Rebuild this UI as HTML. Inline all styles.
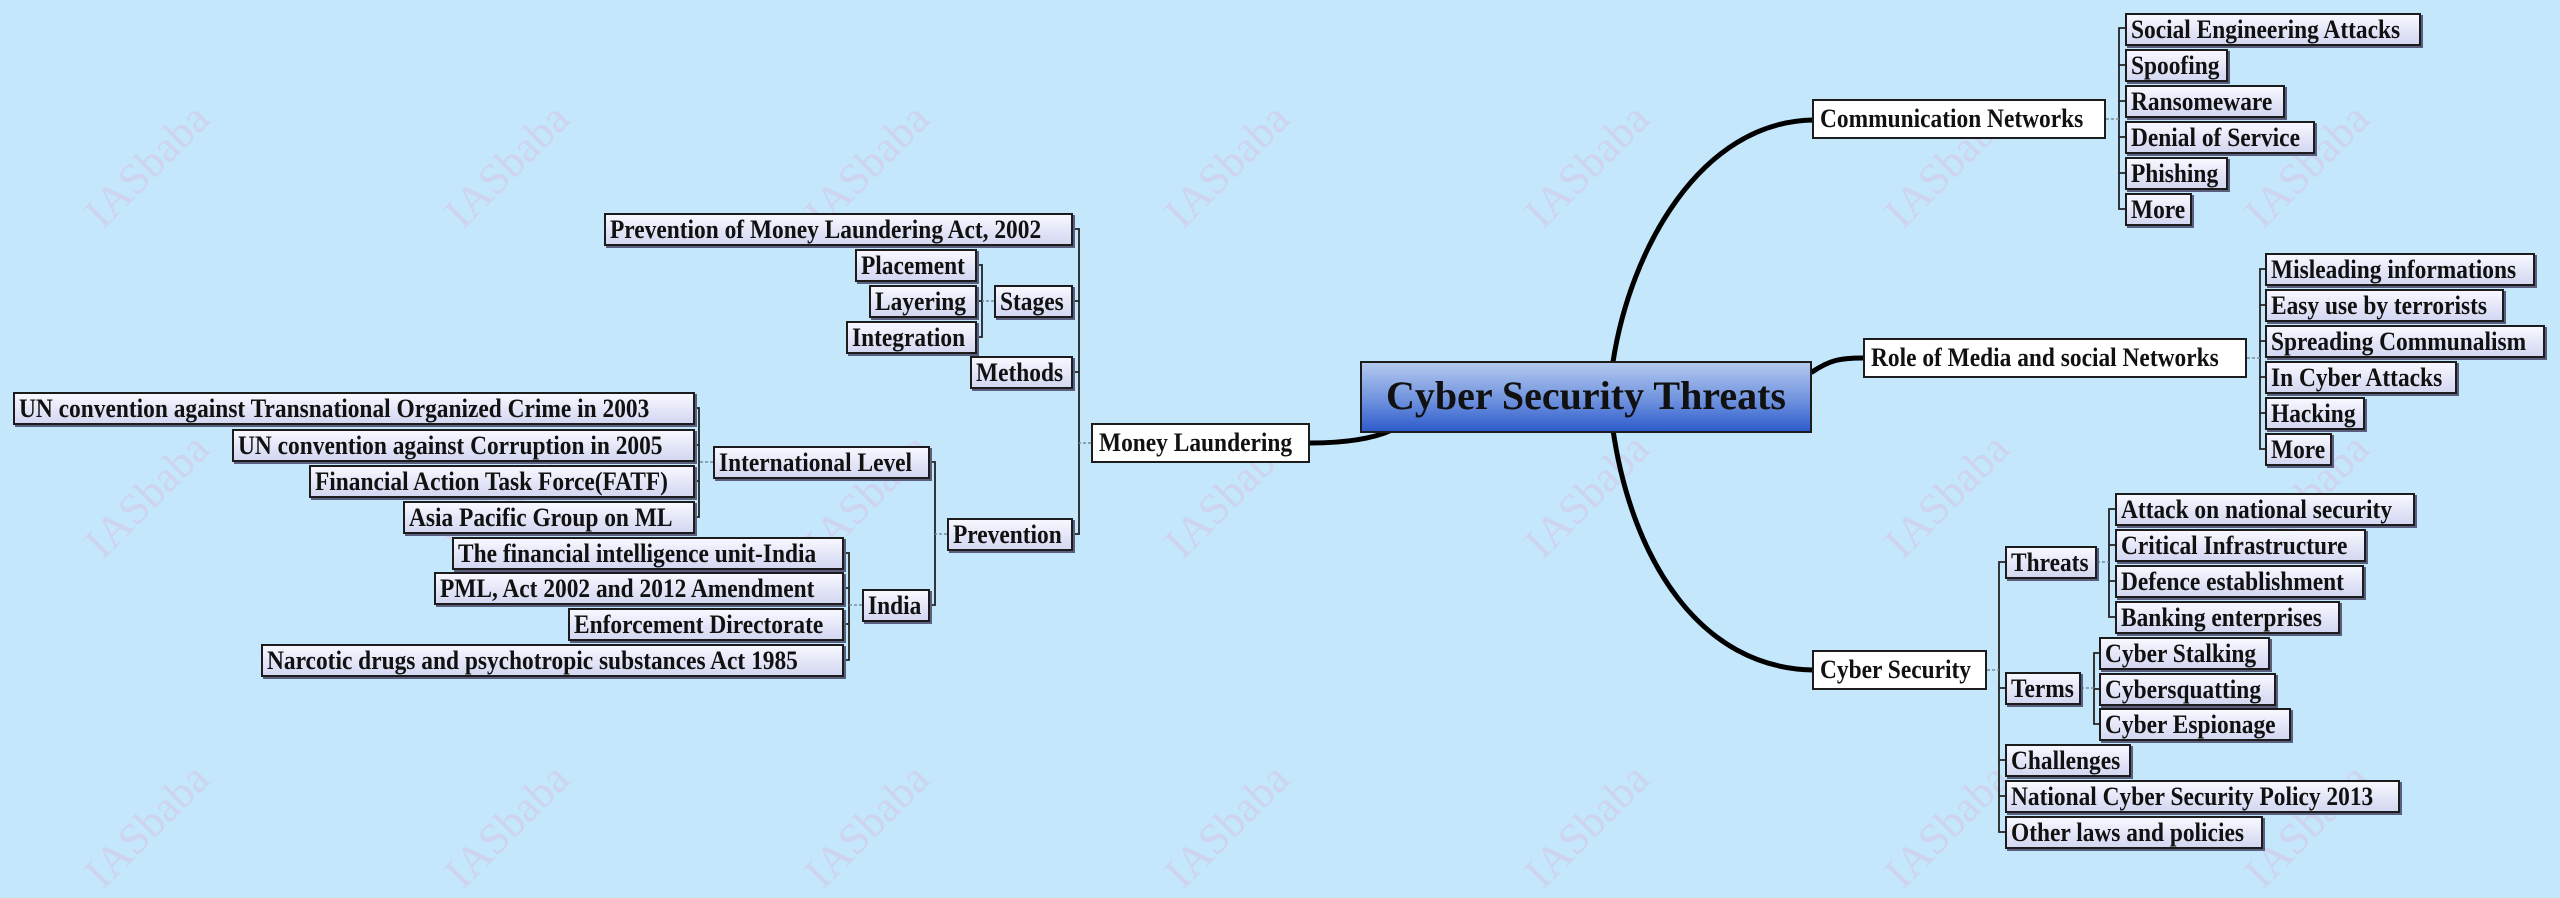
<!DOCTYPE html>
<html><head><meta charset="utf-8"><style>
body{margin:0;width:2560px;height:863px;background:#c4e7fb;position:relative;overflow:hidden;font-family:"Liberation Serif",serif;}
.b{position:absolute;box-sizing:border-box;border:2px solid #1c1c1c;background:linear-gradient(#f7f8ff,#d3d7f1);box-shadow:2px 2px 0 #5a5f80;font-weight:bold;font-size:26px;line-height:29px;white-space:nowrap;text-align:left;padding-left:4px;color:#111;height:33px;overflow:visible;}
.b span{display:inline-block;transform:scaleX(0.9);transform-origin:left center;}
.w{background:#fff;box-shadow:none;height:40px;line-height:36px;padding-left:6px;}
.wm{position:absolute;font-size:44px;color:rgba(235,150,205,0.25);transform:rotate(-45deg);font-family:"Liberation Serif",serif;}
svg{position:absolute;left:0;top:0;}
</style></head><body>
<div class="wm" style="left:70px;top:140px">IASbaba</div>
<div class="wm" style="left:430px;top:140px">IASbaba</div>
<div class="wm" style="left:790px;top:140px">IASbaba</div>
<div class="wm" style="left:1150px;top:140px">IASbaba</div>
<div class="wm" style="left:1510px;top:140px">IASbaba</div>
<div class="wm" style="left:1870px;top:140px">IASbaba</div>
<div class="wm" style="left:2230px;top:140px">IASbaba</div>
<div class="wm" style="left:70px;top:470px">IASbaba</div>
<div class="wm" style="left:430px;top:470px">IASbaba</div>
<div class="wm" style="left:790px;top:470px">IASbaba</div>
<div class="wm" style="left:1150px;top:470px">IASbaba</div>
<div class="wm" style="left:1510px;top:470px">IASbaba</div>
<div class="wm" style="left:1870px;top:470px">IASbaba</div>
<div class="wm" style="left:2230px;top:470px">IASbaba</div>
<div class="wm" style="left:70px;top:800px">IASbaba</div>
<div class="wm" style="left:430px;top:800px">IASbaba</div>
<div class="wm" style="left:790px;top:800px">IASbaba</div>
<div class="wm" style="left:1150px;top:800px">IASbaba</div>
<div class="wm" style="left:1510px;top:800px">IASbaba</div>
<div class="wm" style="left:1870px;top:800px">IASbaba</div>
<div class="wm" style="left:2230px;top:800px">IASbaba</div>

<svg width="2560" height="863">
<g fill="none" stroke="#000" stroke-linecap="round">
<path d="M1613,362 C1630,250 1700,122 1813,120" stroke-width="5"/>
<path d="M1613,430 C1632,560 1700,668 1813,670" stroke-width="5"/>
<path d="M1812,372 C1830,360 1840,358 1863,358" stroke-width="5"/>
<path d="M1392,430 C1370,440 1340,443 1310,443" stroke-width="5"/>
</g>
<g fill="none" stroke="#222" stroke-width="1.8">
<path d="M2125,28 H2119 V209 H2125 M2119,65 H2125 M2119,101 H2125 M2119,137 H2125 M2119,173 H2125"/>
<path d="M2265,269 H2260 V449 H2265 M2260,305 H2265 M2260,341 H2265 M2260,377 H2265 M2260,413 H2265"/>
<path d="M2005,562 H1999 V832 H2005 M1999,688 H2005 M1999,760 H2005 M1999,796 H2005"/>
<path d="M2115,509 H2109 V617 H2115 M2109,545 H2115 M2109,581 H2115"/>
<path d="M2099,653 H2094 V724 H2099 M2094,689 H2099"/>
<path d="M1073,229 H1079 V534 H1073 M1079,301 H1073 M1079,372 H1073"/>
<path d="M977,265 H982 V337 H977 M982,301 H977"/>
<path d="M930,462 H935 V605 H930"/>
<path d="M695,408 H699 V517 H695 M699,445 H695 M699,481 H695"/>
<path d="M844,553 H849 V660 H844 M849,588 H844 M849,624 H844"/>
</g>
<g fill="none" stroke="#7a8a9a" stroke-width="1.5" stroke-dasharray="3,2">
<path d="M2106,119 H2119 M2247,358 H2260 M1987,670 H1999 M2097,562 H2109 M2081,688 H2094 M1091,443 H1079 M994,301 H982 M947,534 H935 M713,462 H699 M862,605 H849"/>
</g>
</svg>

<div class="b" style="left:1360px;top:361px;width:452px;height:72px;line-height:66px;font-size:40px;text-align:center;padding-left:0;background:linear-gradient(#b3c9ef,#6f92de 55%,#2d5bcc);box-shadow:none;">Cyber Security Threats</div>

<div class="b w" style="left:1812px;top:99px;width:294px"><span>Communication Networks</span></div>
<div class="b" style="left:2125px;top:13px;width:296px"><span>Social Engineering Attacks</span></div>
<div class="b" style="left:2125px;top:49px;width:103px"><span>Spoofing</span></div>
<div class="b" style="left:2125px;top:85px;width:160px"><span>Ransomeware</span></div>
<div class="b" style="left:2125px;top:121px;width:190px"><span>Denial of Service</span></div>
<div class="b" style="left:2125px;top:157px;width:103px"><span>Phishing</span></div>
<div class="b" style="left:2125px;top:193px;width:67px"><span>More</span></div>

<div class="b w" style="left:1863px;top:338px;width:384px"><span>Role of Media and social Networks</span></div>
<div class="b" style="left:2265px;top:253px;width:270px"><span>Misleading informations</span></div>
<div class="b" style="left:2265px;top:289px;width:239px"><span>Easy use by terrorists</span></div>
<div class="b" style="left:2265px;top:325px;width:280px"><span>Spreading Communalism</span></div>
<div class="b" style="left:2265px;top:361px;width:192px"><span>In Cyber Attacks</span></div>
<div class="b" style="left:2265px;top:397px;width:100px"><span>Hacking</span></div>
<div class="b" style="left:2265px;top:433px;width:67px"><span>More</span></div>

<div class="b w" style="left:1812px;top:650px;width:175px"><span>Cyber Security</span></div>
<div class="b" style="left:2005px;top:546px;width:92px"><span>Threats</span></div>
<div class="b" style="left:2005px;top:672px;width:76px"><span>Terms</span></div>
<div class="b" style="left:2005px;top:744px;width:126px"><span>Challenges</span></div>
<div class="b" style="left:2005px;top:780px;width:395px"><span>National Cyber Security Policy 2013</span></div>
<div class="b" style="left:2005px;top:816px;width:258px"><span>Other laws and policies</span></div>
<div class="b" style="left:2115px;top:493px;width:300px"><span>Attack on national security</span></div>
<div class="b" style="left:2115px;top:529px;width:251px"><span>Critical Infrastructure</span></div>
<div class="b" style="left:2115px;top:565px;width:249px"><span>Defence establishment</span></div>
<div class="b" style="left:2115px;top:601px;width:225px"><span>Banking enterprises</span></div>
<div class="b" style="left:2099px;top:637px;width:171px"><span>Cyber Stalking</span></div>
<div class="b" style="left:2099px;top:673px;width:177px"><span>Cybersquatting</span></div>
<div class="b" style="left:2099px;top:708px;width:192px"><span>Cyber Espionage</span></div>

<div class="b w" style="left:1091px;top:423px;width:219px"><span>Money Laundering</span></div>
<div class="b" style="left:604px;top:213px;width:469px"><span>Prevention of Money Laundering Act, 2002</span></div>
<div class="b" style="left:855px;top:249px;width:122px"><span>Placement</span></div>
<div class="b" style="left:869px;top:285px;width:108px"><span>Layering</span></div>
<div class="b" style="left:846px;top:321px;width:131px"><span>Integration</span></div>
<div class="b" style="left:994px;top:285px;width:79px"><span>Stages</span></div>
<div class="b" style="left:970px;top:356px;width:103px"><span>Methods</span></div>
<div class="b" style="left:947px;top:518px;width:126px"><span>Prevention</span></div>
<div class="b" style="left:713px;top:446px;width:217px"><span>International Level</span></div>
<div class="b" style="left:862px;top:589px;width:68px"><span>India</span></div>
<div class="b" style="left:13px;top:392px;width:682px"><span>UN convention against Transnational Organized Crime in 2003</span></div>
<div class="b" style="left:232px;top:429px;width:463px"><span>UN convention against Corruption in 2005</span></div>
<div class="b" style="left:309px;top:465px;width:386px"><span>Financial Action Task Force(FATF)</span></div>
<div class="b" style="left:403px;top:501px;width:292px"><span>Asia Pacific Group on ML</span></div>
<div class="b" style="left:452px;top:537px;width:392px"><span>The financial intelligence unit-India</span></div>
<div class="b" style="left:434px;top:572px;width:410px"><span>PML, Act 2002 and 2012 Amendment</span></div>
<div class="b" style="left:568px;top:608px;width:276px"><span>Enforcement Directorate</span></div>
<div class="b" style="left:261px;top:644px;width:583px"><span>Narcotic drugs and psychotropic  substances Act 1985</span></div>
</body></html>
